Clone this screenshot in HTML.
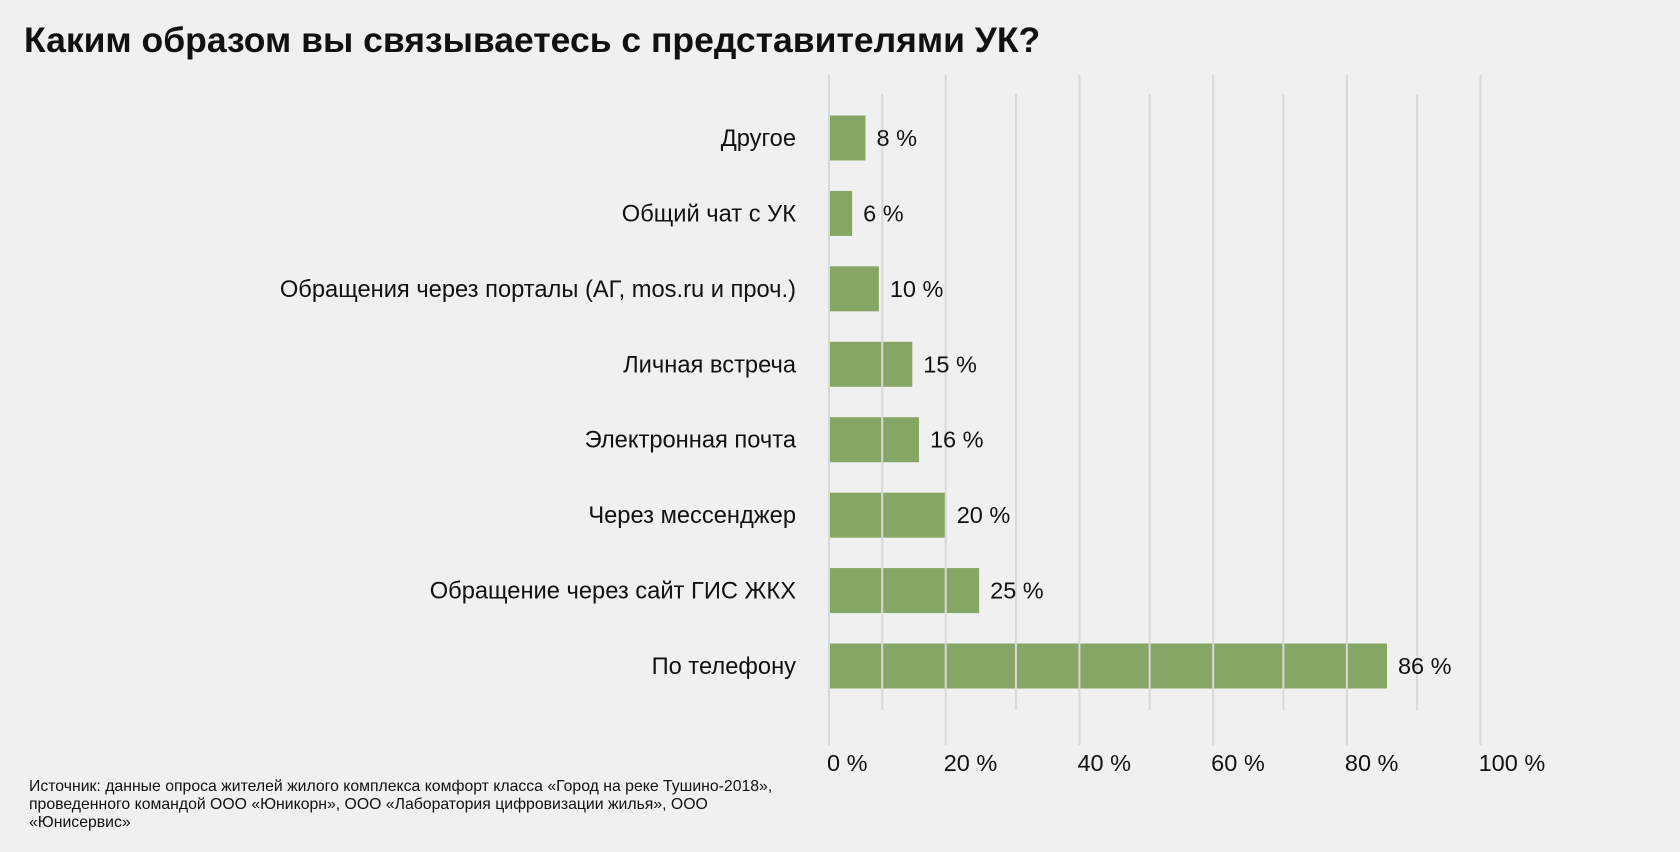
<!DOCTYPE html>
<html><head><meta charset="utf-8"><style>
html,body{margin:0;padding:0;background:#f0f0f0;}
svg{display:block;font-family:"Liberation Sans",Arial,sans-serif;}
</style></head><body>
<svg id="chart" width="1680" height="852" viewBox="0 0 1680 852">
<rect width="1680" height="852" fill="#f0f0f0"/>
<text x="24" y="52" font-size="35.5" font-weight="bold" fill="#111">Каким образом вы связываетесь с представителями УК?</text>
<g id="bars"></g>
<g id="grid"></g>
<g id="labels"></g>
<g font-size="15.8" fill="#111">
<text x="29" y="791">Источник: данные опроса жителей жилого комплекса комфорт класса «Город на реке Тушино-2018»,</text>
<text x="29" y="809">проведенного командой ООО «Юникорн», ООО «Лаборатория цифровизации жилья», ООО</text>
<text x="29" y="827">«Юнисервис»</text>
</g>
</svg>
<script>
const categories = ["Другое","Общий чат с УК","Обращения через порталы (АГ, mos.ru и проч.)","Личная встреча","Электронная почта","Через мессенджер","Обращение через сайт ГИС ЖКХ","По телефону"];
const values = [8,6,10,15,16,20,25,86];
const valueLabels = ["8 %","6 %","10 %","15 %","16 %","20 %","25 %","86 %"];
const ticks = [0,20,40,60,80,100];
const tickLabels = ["0 %","20 %","40 %","60 %","80 %","100 %"];
const minorTicks = [10.5,30.5,50.5,70.5,90.5];

const NS="http://www.w3.org/2000/svg";
const plotLeft=829;
function x(v){return Math.max(plotLeft, 812+6.686*v);}
const rowTop=138, rowBottom=666;
function yc(i){return rowTop+(rowBottom-rowTop)*i/(categories.length-1);}
const barH=45;
function mk(tag,attrs,parent){const e=document.createElementNS(NS,tag);for(const k in attrs)e.setAttribute(k,attrs[k]);parent.appendChild(e);return e;}
const gB=document.getElementById('bars'),gG=document.getElementById('grid'),gL=document.getElementById('labels');
categories.forEach((c,i)=>{
  const r=mk('rect',{x:plotLeft,y:yc(i)-barH/2,width:x(values[i])-plotLeft,height:barH,fill:'#86a665'},gB);
  
  
  const t=mk('text',{x:796,y:yc(i)+8,'text-anchor':'end','font-size':23.7,fill:'#111'},gL);
  t.textContent=c;
  
  
  const v=mk('text',{x:x(values[i])+11,y:yc(i)+8,'font-size':23.5,fill:'#111'},gL);
  v.textContent=valueLabels[i];
  
  
});
ticks.forEach((t,i)=>{
  const l=mk('line',{x1:x(t),x2:x(t),y1:75,y2:745,stroke:'#d8d8d8','stroke-width':2},gG);
  
  
  const tx=mk('text',{x:x(t)-2,y:771,'font-size':23.5,fill:'#111'},gL);
  tx.textContent=tickLabels[i];
  
  
});
minorTicks.forEach(t=>{
  const l=mk('line',{x1:x(t),x2:x(t),y1:94,y2:710,stroke:'#d8d8d8','stroke-width':2},gG);
  
  
});
</script>
</body></html>
